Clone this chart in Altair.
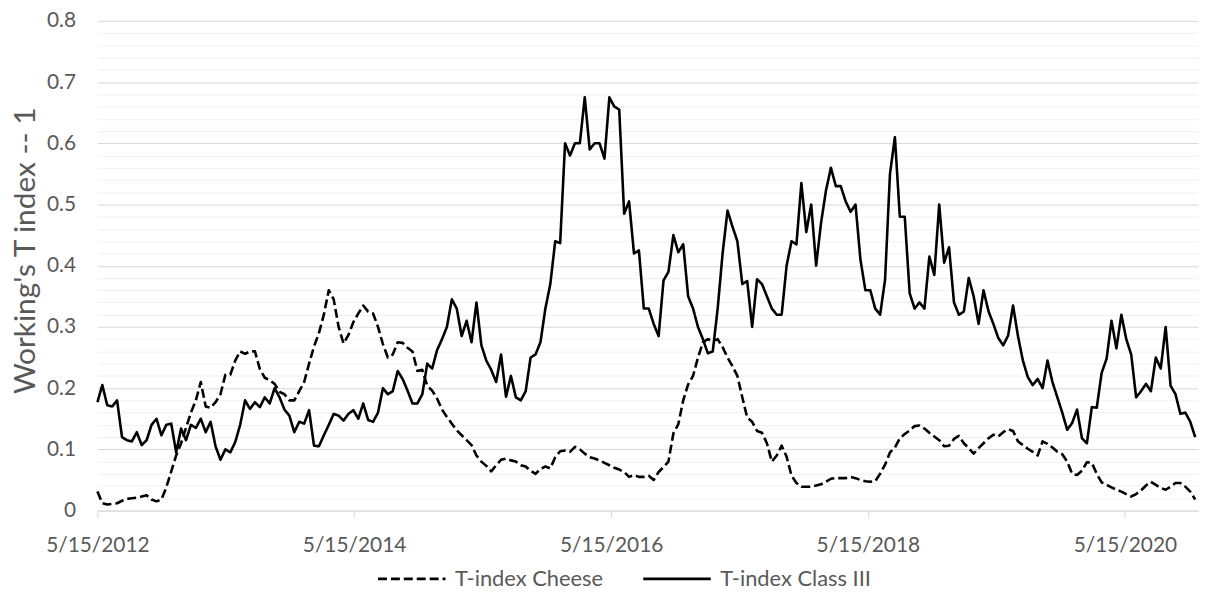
import altair as alt
import pandas as pd

# ---------------- data (one value every 14 days) ----------------
start_date = "2012-05-15"
n_points = 224
dates = pd.date_range(start_date, periods=n_points, freq="14D").strftime("%Y-%m-%d").tolist()

series_names = ["T-index Cheese", "T-index Class III"]

cheese = [
    0.031, 0.012, 0.010, 0.011, 0.012, 0.016, 0.019, 0.020, 0.021, 0.023,
    0.025, 0.018, 0.015, 0.018, 0.038, 0.064, 0.090, 0.110, 0.135, 0.160,
    0.180, 0.210, 0.170, 0.168, 0.177, 0.190, 0.222, 0.222, 0.245, 0.260,
    0.256, 0.260, 0.260, 0.231, 0.217, 0.213, 0.207, 0.194, 0.190, 0.180,
    0.180, 0.195, 0.210, 0.240, 0.268, 0.290, 0.320, 0.360, 0.345, 0.300,
    0.273, 0.287, 0.308, 0.322, 0.335, 0.325, 0.322, 0.300, 0.272, 0.250,
    0.255, 0.275, 0.274, 0.266, 0.260, 0.228, 0.230, 0.204, 0.196, 0.183,
    0.165, 0.153, 0.142, 0.131, 0.123, 0.115, 0.107, 0.090, 0.080, 0.073,
    0.064, 0.074, 0.083, 0.085, 0.082, 0.080, 0.074, 0.072, 0.065, 0.060,
    0.068, 0.072, 0.069, 0.087, 0.097, 0.098, 0.096, 0.104, 0.100, 0.093,
    0.087, 0.085, 0.082, 0.078, 0.074, 0.070, 0.067, 0.063, 0.055, 0.058,
    0.055, 0.055, 0.057, 0.050, 0.063, 0.071, 0.080, 0.126, 0.141, 0.180,
    0.206, 0.220, 0.250, 0.275, 0.280, 0.277, 0.280, 0.267, 0.250, 0.236,
    0.220, 0.185, 0.152, 0.145, 0.130, 0.127, 0.110, 0.080, 0.090, 0.106,
    0.088, 0.057, 0.045, 0.039, 0.039, 0.039, 0.041, 0.043, 0.047, 0.052,
    0.053, 0.053, 0.053, 0.055, 0.053, 0.050, 0.048, 0.047, 0.048, 0.060,
    0.075, 0.095, 0.103, 0.118, 0.125, 0.131, 0.138, 0.139, 0.134, 0.127,
    0.121, 0.115, 0.105, 0.106, 0.117, 0.122, 0.110, 0.102, 0.093, 0.102,
    0.110, 0.118, 0.124, 0.121, 0.128, 0.133, 0.130, 0.113, 0.107, 0.101,
    0.096, 0.090, 0.113, 0.109, 0.103, 0.096, 0.092, 0.080, 0.060, 0.058,
    0.065, 0.079, 0.078, 0.060, 0.046, 0.042, 0.038, 0.034, 0.031, 0.027,
    0.023, 0.027, 0.033, 0.041, 0.047, 0.042, 0.037, 0.034, 0.039, 0.045,
    0.045, 0.039, 0.031, 0.018,
]

class_iii = [
    0.177, 0.205, 0.172, 0.170, 0.180, 0.120, 0.115, 0.113, 0.128, 0.107,
    0.115, 0.140, 0.150, 0.123, 0.140, 0.142, 0.095, 0.134, 0.115, 0.140,
    0.135, 0.150, 0.128, 0.145, 0.105, 0.083, 0.100, 0.095, 0.112, 0.140,
    0.180, 0.166, 0.177, 0.169, 0.185, 0.175, 0.200, 0.185, 0.165, 0.155,
    0.128, 0.145, 0.142, 0.164, 0.106, 0.105, 0.123, 0.140, 0.158, 0.155,
    0.147, 0.158, 0.164, 0.150, 0.175, 0.148, 0.145, 0.160, 0.200, 0.190,
    0.195, 0.228, 0.215, 0.196, 0.175, 0.175, 0.190, 0.240, 0.232, 0.262,
    0.280, 0.300, 0.345, 0.330, 0.285, 0.310, 0.275, 0.340, 0.270, 0.245,
    0.230, 0.210, 0.255, 0.186, 0.220, 0.185, 0.180, 0.195, 0.250, 0.255,
    0.275, 0.330, 0.370, 0.440, 0.437, 0.600, 0.580, 0.600, 0.600, 0.675,
    0.590, 0.600, 0.600, 0.575, 0.675, 0.660, 0.655, 0.485, 0.505, 0.420,
    0.425, 0.330, 0.330, 0.305, 0.285, 0.376, 0.390, 0.450, 0.422, 0.435,
    0.350, 0.330, 0.300, 0.280, 0.257, 0.260, 0.330, 0.420, 0.490, 0.464,
    0.440, 0.370, 0.375, 0.300, 0.378, 0.370, 0.350, 0.330, 0.320, 0.320,
    0.400, 0.440, 0.435, 0.535, 0.455, 0.500, 0.400, 0.470, 0.523, 0.560,
    0.530, 0.530, 0.505, 0.488, 0.500, 0.410, 0.360, 0.360, 0.330, 0.320,
    0.377, 0.550, 0.610, 0.480, 0.480, 0.355, 0.330, 0.340, 0.330, 0.415,
    0.385, 0.500, 0.405, 0.430, 0.340, 0.320, 0.325, 0.380, 0.350, 0.305,
    0.360, 0.326, 0.305, 0.282, 0.270, 0.286, 0.335, 0.285, 0.245, 0.218,
    0.205, 0.215, 0.200, 0.245, 0.210, 0.185, 0.160, 0.132, 0.143, 0.165,
    0.118, 0.110, 0.169, 0.168, 0.225, 0.248, 0.310, 0.265, 0.320, 0.280,
    0.255, 0.185, 0.195, 0.207, 0.195, 0.250, 0.232, 0.300, 0.204, 0.190,
    0.158, 0.160, 0.145, 0.120,
]

x_tick_years = [2012, 2014, 2016, 2018, 2020]
x_domain = [
    alt.DateTime(year=2012, month=5, date=15, utc=True),
    alt.DateTime(year=2020, month=12, date=9, utc=True),
]
y_tick_values = [
    0.0, 0.02, 0.04, 0.06, 0.08, 0.1, 0.12, 0.14, 0.16, 0.18,
    0.2, 0.22, 0.24, 0.26, 0.28, 0.3, 0.32, 0.34, 0.36, 0.38,
    0.4, 0.42, 0.44, 0.46, 0.48, 0.5, 0.52, 0.54, 0.56, 0.58,
    0.6, 0.62, 0.64, 0.66, 0.68, 0.7, 0.72, 0.74, 0.76, 0.78, 0.8,
]

df = pd.concat([
    pd.DataFrame({"date": dates, "value": cheese, "series": series_names[0]}),
    pd.DataFrame({"date": dates, "value": class_iii, "series": series_names[1]}),
], ignore_index=True)

FONT = "Lato"
TEXT_COLOR = "#595959"

chart = alt.Chart(df).mark_line(
    color="black", strokeWidth=2.6, strokeJoin="round"
).encode(
    x=alt.X(
        "date:T",
        scale=alt.Scale(type="utc", nice=False, domain=x_domain),
        axis=alt.Axis(
            values=[alt.DateTime(year=y, month=5, date=15, utc=True) for y in x_tick_years],
            labelExpr="utcFormat(datum.value, '%-m/%-d/%Y')",
            grid=False,
            domainColor="#d9d9d9",
            domainWidth=1,
            tickColor="#d9d9d9",
            tickSize=7,
            labelFont=FONT,
            labelFontSize=21,
            labelColor=TEXT_COLOR,
            labelPadding=17,
            labelFlush=False,
            labelOverlap=False,
            title=None,
        ),
    ),
    y=alt.Y(
        "value:Q",
        scale=alt.Scale(domain=[0, 0.8], nice=False, zero=True),
        axis=alt.Axis(
            values=y_tick_values,
            labelExpr="round(datum.value * 100) % 10 == 0 ? format(datum.value, '.1~f') : ''",
            grid=True,
            gridColor={"condition": {"test": "round(datum.value * 100) % 10 == 0", "value": "#d9d9d9"}, "value": "#f0f0f0"},
            gridWidth=1,
            domain=False,
            ticks=False,
            labelPadding=22,
            labelFont=FONT,
            labelFontSize=21,
            labelColor=TEXT_COLOR,
            labelOverlap=False,
            title="Working's T index  -- 1",
            titleFont=FONT,
            titleFontSize=30,
            titleFontWeight="normal",
            titleColor=TEXT_COLOR,
            titleAngle=270,
            titleAlign="center",
            titleBaseline="middle",
            titleX=-72,
            titleY=231,
        ),
    ),
    strokeDash=alt.StrokeDash(
        "series:N",
        scale=alt.Scale(domain=series_names, range=[[9, 4], [1, 0]]),
        legend=alt.Legend(
            title=None,
            orient="none",
            legendX=281,
            legendY=526,
            direction="horizontal",
            symbolType="stroke",
            symbolSize=4624,
            symbolStrokeWidth=2.6,
            symbolStrokeColor="black",
            labelFont=FONT,
            labelFontSize=22,
            labelColor=TEXT_COLOR,
            labelOffset=8,
            columnPadding=34,
            padding=0,
        ),
    ),
).properties(
    width=1108,
    height=493,
    autosize=alt.AutoSizeParams(type="none"),
    padding={"left": 90, "top": 11, "right": 1, "bottom": 76},
    background="white",
).configure_view(stroke=None)

chart.save("out.html", embed_options={"renderer": "svg", "actions": False})
